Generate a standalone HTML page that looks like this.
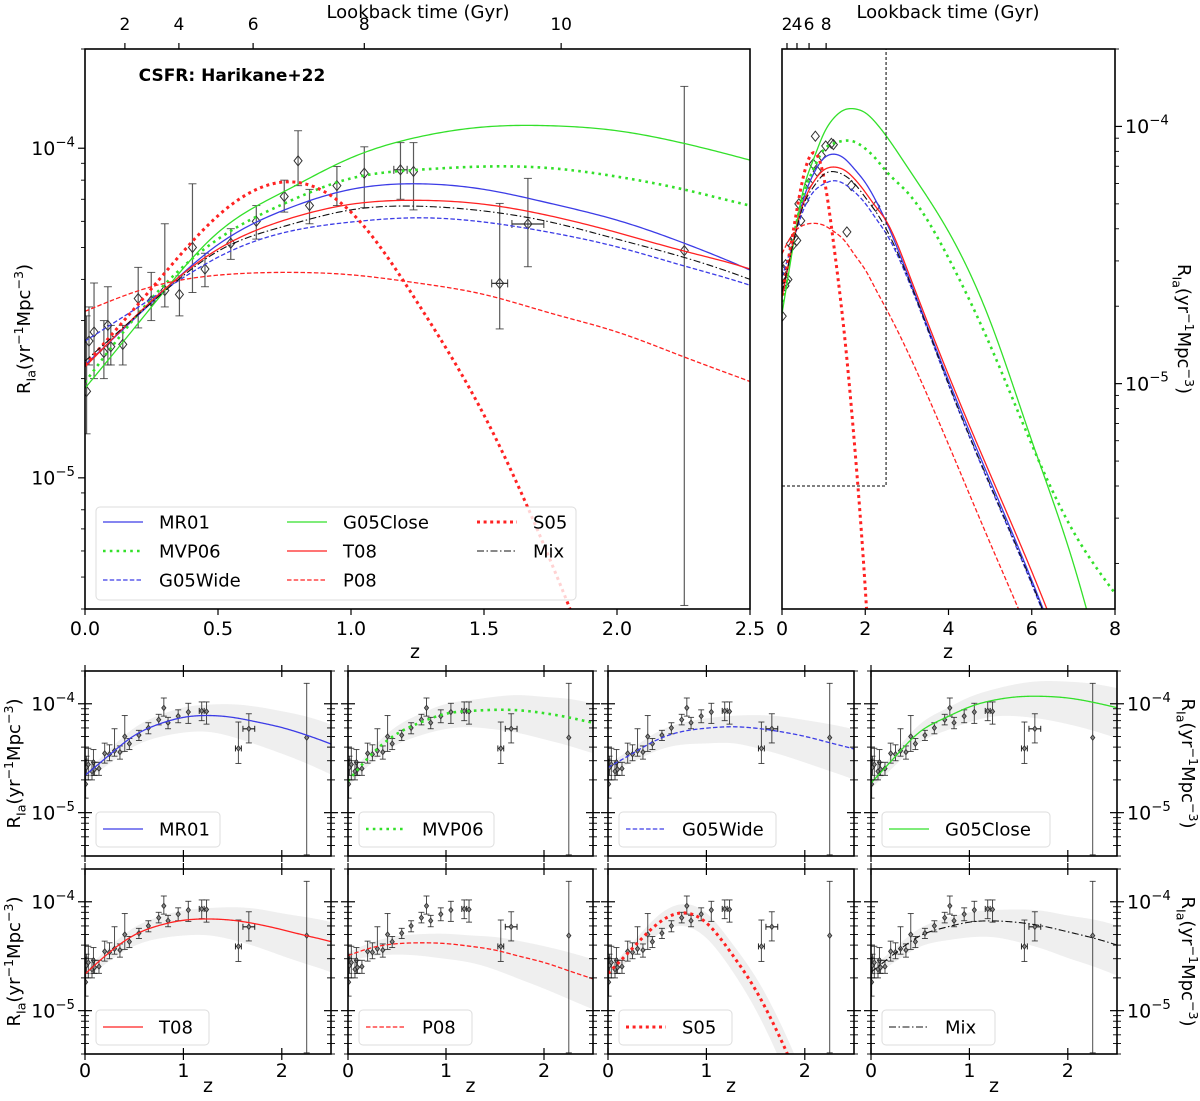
<!DOCTYPE html>
<html><head><meta charset="utf-8">
<style>
html,body{margin:0;padding:0;background:#fff;overflow:hidden;width:1200px;height:1101px;}
svg{display:block;font-family:"DejaVu Sans","Liberation Sans",sans-serif;}
</style></head>
<body>
<svg id="fig" width="1200" height="1101" viewBox="0 0 1200 1101" xmlns="http://www.w3.org/2000/svg" overflow="hidden"></svg>
<script>
// ---- data ----
const zGrid = [0,0.25,0.5,0.75,1,1.25,1.5,1.75,2,2.25,2.5,3,4,5,6,7,8];
const mr01     = [2.2e-5,3.4e-5,5.1e-5,6.5e-5,7.5e-5,7.8e-5,7.5e-5,6.8e-5,6.05e-5,5.16e-5,4.27e-5,2.7e-5,1.03e-5,4.2e-6,1.72e-6,6.5e-7,2.3e-7];
const mvp06    = [1.95e-5,3.5e-5,5.3e-5,6.8e-5,8.1e-5,8.6e-5,8.8e-5,8.7e-5,8.2e-5,7.5e-5,6.7e-5,5.57e-5,3.08e-5,1.41e-5,5.8e-6,2.66e-6,1.53e-6];
const g05wide  = [2.6e-5,3.5e-5,4.67e-5,5.55e-5,5.97e-5,6.15e-5,5.97e-5,5.55e-5,5.02e-5,4.4e-5,3.84e-5,2.6e-5,9.9e-6,4.0e-6,1.66e-6,6.3e-7,2.2e-7];
const g05close = [1.87e-5,3.3e-5,5.55e-5,7.4e-5,9.35e-5,1.08e-4,1.16e-4,1.17e-4,1.13e-4,1.035e-4,9.2e-5,7.0e-5,3.9e-5,1.75e-5,6.0e-6,2.0e-6,5e-7];
const t08      = [2.17e-5,3.44e-5,4.94e-5,6.05e-5,6.76e-5,6.95e-5,6.76e-5,6.23e-5,5.55e-5,4.88e-5,4.3e-5,2.8e-5,1.08e-5,4.45e-6,1.86e-6,7.2e-7,2.6e-7];
const p08      = [3.2e-5,3.8e-5,4.12e-5,4.2e-5,4.13e-5,3.9e-5,3.6e-5,3.16e-5,2.77e-5,2.33e-5,1.96e-5,1.35e-5,5.8e-6,2.4e-6,1.0e-6,3.8e-7,1.4e-7];
const s05      = [2.2e-5,3.75e-5,6.24e-5,7.9e-5,6.4e-5,3.4e-5,1.55e-5,5.6e-6,1.6e-6,3e-7,4e-8,4e-10,1e-14,1e-19,1e-24,1e-29,1e-34];
const mix      = [2.26e-5,3.4e-5,4.87e-5,5.8e-5,6.5e-5,6.67e-5,6.45e-5,5.97e-5,5.3e-5,4.67e-5,4.0e-5,2.65e-5,1.0e-5,4.05e-6,1.68e-6,6.4e-7,2.3e-7];
const bandUp   = [0.03,0.05,0.07,0.08,0.09,0.1,0.12,0.14,0.15,0.17,0.18,0.2,0.22,0.24,0.26,0.28,0.3];
const bandDown = [0.05,0.08,0.1,0.12,0.14,0.15,0.18,0.21,0.24,0.26,0.28,0.3,0.32,0.34,0.36,0.38,0.4];
// observations
const obsZ   = [0.006,0.015,0.034,0.071,0.086,0.097,0.142,0.2,0.249,0.3,0.355,0.404,0.451,0.548,0.644,0.749,0.801,0.844,0.947,1.05,1.186,1.235,1.559,1.665,2.253];
const obsR   = [1.83e-5,2.6e-5,2.77e-5,2.4e-5,2.9e-5,2.5e-5,2.54e-5,3.5e-5,3.44e-5,3.7e-5,3.6e-5,5.0e-5,4.3e-5,5.15e-5,6.0e-5,7.14e-5,9.16e-5,6.7e-5,7.7e-5,8.4e-5,8.6e-5,8.5e-5,3.89e-5,5.89e-5,4.89e-5];
const obsHi  = [3.1e-5,3.3e-5,3.9e-5,3.0e-5,3.8e-5,2.9e-5,2.9e-5,4.35e-5,4.2e-5,5.9e-5,4.1e-5,7.8e-5,4.8e-5,5.7e-5,6.7e-5,8.0e-5,1.13e-4,7.5e-5,8.8e-5,1.01e-4,1.04e-4,1.04e-4,6.8e-5,8.1e-5,1.54e-4];
const obsLo  = [1.36e-5,2.2e-5,2.0e-5,2.0e-5,2.2e-5,2.2e-5,2.2e-5,2.85e-5,3.0e-5,3.3e-5,3.1e-5,3.65e-5,3.8e-5,4.6e-5,5.3e-5,6.4e-5,7.7e-5,5.9e-5,6.7e-5,6.6e-5,7.0e-5,6.5e-5,2.83e-5,4.37e-5,4.1e-6];
const obsXe  = [0,0,0,0,0,0,0,0,0,0,0,0,0,0,0,0,0,0,0,0,0.025,0,0.03,0.06,0];
const lbLabels = ["2","4","6","8","10"];
const lbZ      = [0.15,0.353,0.632,1.05,1.79];
const lbLabelsR = ["2","4","6","8"];
const lbZR      = [0.12,0.36,0.65,1.06];
const mainXTicks = [0,0.5,1.0,1.5,2.0,2.5];
const rightXTicks = [0,2,4,6,8];
const smallXTicks = [0,1,2];

const models = [
 {name:"MR01", v:mr01, c:"#3c3ce6", w:1.3, d:null},
 {name:"MVP06", v:mvp06, c:"#33e02a", w:2.6, d:"2.6 4.2"},
 {name:"G05Wide", v:g05wide, c:"#3c3ce6", w:1.3, d:"4.5 2.2"},
 {name:"G05Close", v:g05close, c:"#33e02a", w:1.3, d:null},
 {name:"T08", v:t08, c:"#ff2222", w:1.3, d:null},
 {name:"P08", v:p08, c:"#ff2222", w:1.3, d:"4.5 2.2"},
 {name:"S05", v:s05, c:"#ff2222", w:3, d:"3 3.6"},
 {name:"Mix", v:mix, c:"#111", w:1.1, d:"7 2.5 1.5 2.5"}
];

const NS="http://www.w3.org/2000/svg";
const fig=document.getElementById('fig');
function el(tag,attrs,parent){const e=document.createElementNS(NS,tag);for(const k in attrs)e.setAttribute(k,attrs[k]);(parent||fig).appendChild(e);return e;}
function lg(v){return Math.log10(v);}

function makeAxes(x0,x1,y0,y1,zmin,zmax,lmin,lmax,id){
  return {x0,x1,y0,y1,id,
    X:z=>x0+(z-zmin)/(zmax-zmin)*(x1-x0),
    YL:L=>y1-(L-lmin)/(lmax-lmin)*(y1-y0),
    Y:r=>y1-(lg(r)-lmin)/(lmax-lmin)*(y1-y0)};
}
function clip(a){
  const cp=el('clipPath',{id:'clip-'+a.id});
  el('rect',{x:a.x0,y:a.y0,width:a.x1-a.x0,height:a.y1-a.y0},cp);
  return 'url(#clip-'+a.id+')';
}
function spline(ys){
  const x=zGrid,n=x.length,h=[],al=[0],l=[1],mu=[0],zz=[0],c=new Array(n).fill(0),b=[],d=[];
  for(let i=0;i<n-1;i++)h.push(x[i+1]-x[i]);
  for(let i=1;i<n-1;i++)al.push(3/h[i]*(ys[i+1]-ys[i])-3/h[i-1]*(ys[i]-ys[i-1]));
  for(let i=1;i<n-1;i++){l[i]=2*(x[i+1]-x[i-1])-h[i-1]*mu[i-1];mu[i]=h[i]/l[i];zz[i]=(al[i]-h[i-1]*zz[i-1])/l[i];}
  for(let j=n-2;j>=0;j--){c[j]=zz[j]-mu[j]*c[j+1];b[j]=(ys[j+1]-ys[j])/h[j]-h[j]*(c[j+1]+2*c[j])/3;d[j]=(c[j+1]-c[j])/(3*h[j]);}
  return z=>{let j=0;while(j<n-2&&z>x[j+1])j++;const t=z-x[j];return ys[j]+b[j]*t+c[j]*t*t+d[j]*t*t*t;};
}
function sampled(a,logs,zmax){
  const f=spline(logs);const pts=[];
  for(let z=0;z<=zmax+1e-9;z+=0.01){
    let y=a.YL(f(z));
    if(y>a.y1+20){ pts.push([a.X(z),a.y1+20]); break; }
    if(y<a.y0-20) y=a.y0-20;
    pts.push([a.X(z),y]);
  }
  return pts;
}
function drawModel(a,m,g,name,zmax){
  const pts=sampled(a,m.v.map(lg),zmax);
  const p=el('path',{d:'M'+pts.map(q=>q[0].toFixed(2)+','+q[1].toFixed(2)).join(' L'),fill:'none',stroke:m.c,'stroke-width':m.w,'stroke-dasharray':m.d||'none'},g);
  
  
}
function drawBand(a,m,g){
  const f1=spline(m.v.map((v,i)=>lg(v)+bandUp[i]));
  const f2=spline(m.v.map((v,i)=>lg(v)-bandDown[i]));
  const cl=y=>Math.max(a.y0-20,Math.min(a.y1+20,y));
  const up=[],dn=[];
  for(let z=0;z<=2.6;z+=0.01){up.push([a.X(z),cl(a.YL(f1(z)))]);dn.push([a.X(z),cl(a.YL(f2(z)))]);}
  const all=up.concat(dn.reverse());
  const p=el('path',{d:'M'+all.map(q=>q[0].toFixed(2)+','+q[1].toFixed(2)).join(' L')+' Z',fill:'#efefef',stroke:'none'},g);
  
  
}
function drawObs(a,g,big,errors){
  obsZ.forEach((z,i)=>{
    const x=a.X(z),y=a.Y(obsR[i]);
    const grp=el('g',{},g);
    
    
    const col=big?'#333':'#222';
    if(errors){
      const yh=a.Y(obsHi[i]),yl=a.Y(obsLo[i]);
      el('line',{x1:x,x2:x,y1:yh,y2:yl,stroke:col,'stroke-width':big?1.2:1,opacity:0.8},grp);
      const cw=big?4:3;
      el('line',{x1:x-cw,x2:x+cw,y1:yh,y2:yh,stroke:col,'stroke-width':1,opacity:0.8},grp);
      el('line',{x1:x-cw,x2:x+cw,y1:yl,y2:yl,stroke:col,'stroke-width':1,opacity:0.8},grp);
      if(obsXe[i]>0){
        const xa=a.X(z-obsXe[i]),xb=a.X(z+obsXe[i]);
        el('line',{x1:xa,x2:xb,y1:y,y2:y,stroke:col,'stroke-width':1.2},grp);
        el('line',{x1:xa,x2:xa,y1:y-cw,y2:y+cw,stroke:col,'stroke-width':1},grp);
        el('line',{x1:xb,x2:xb,y1:y-cw,y2:y+cw,stroke:col,'stroke-width':1},grp);
      }
    }
    const s=big?5:2.6;
    el('path',{d:`M${x},${y-s} L${x+s*0.8},${y} L${x},${y+s} L${x-s*0.8},${y} Z`,fill:big?'none':'#888',stroke:'#333','stroke-width':big?1:0.9},grp);
  });
}
function frame(a,name){
  const r=el('rect',{x:a.x0,y:a.y0,width:a.x1-a.x0,height:a.y1-a.y0,fill:'none',stroke:'#000','stroke-width':1.6});
  
  
}
function yTicks(a,lmin,lmax,side,mode,labels,fs){
  for(let d=Math.floor(lmin);d<=Math.ceil(lmax);d++){
    for(let k=1;k<10;k++){
      const v=k*Math.pow(10,d); const L=lg(v);
      if(L<lmin-1e-9||L>lmax+1e-9) continue;
      const y=a.Y(v); const len=k===1?7:4;
      const x=side==='left'?a.x0:a.x1; const sgn=side==='left'?-1:1;
      const xi=mode==='inout'?x-sgn*len:x;
      el('line',{x1:xi,x2:x+sgn*len,y1:y,y2:y,stroke:'#000','stroke-width':k===1?1.2:0.9});
      if(k===1&&labels){
        const tx=side==='left'?x-10:x+10;
        const t=el('text',{x:tx,y:y+fs*0.35,'font-size':fs,'text-anchor':side==='left'?'end':'start',fill:'#000'});
        
        
        t.textContent='10';
        const ts=el('tspan',{dy:-fs*0.45,'font-size':fs*0.7},t); ts.textContent='−'+(-d);
      }
    }
  }
}
function xTicks(a,ticks,fmt,edge,mode,labels,fs,off){
  ticks.forEach(z=>{
    const x=a.X(z); const y=edge==='bottom'?a.y1:a.y0; const sgn=edge==='bottom'?1:-1;
    const yi=mode==='inout'?y-sgn*6:y;
    el('line',{x1:x,x2:x,y1:yi,y2:y+sgn*6,stroke:'#000','stroke-width':1.2});
    if(labels){
      const t=el('text',{x:x,y:edge==='bottom'?y+(off||26):y-10,'font-size':fs,'text-anchor':'middle'});
      t.textContent=fmt(z);
      
      
    }
  });
}
function textAt(x,y,s,fs,name,extra){
  const t=el('text',Object.assign({x,y,'font-size':fs,'text-anchor':'middle'},extra||{}));
  t.textContent=s;
  
  
  return t;
}
function yLabel(x,y,fs,rot,name){
  const t=el('text',{x:0,y:0,'font-size':fs,'text-anchor':'middle',transform:`translate(${x},${y}) rotate(${rot})`});
  
  
  const a=el('tspan',{},t); a.textContent='R';
  const b=el('tspan',{dy:fs*0.3,'font-size':fs*0.7},t); b.textContent='Ia';
  const c=el('tspan',{dy:-fs*0.3},t); c.textContent='(yr';
  const d=el('tspan',{dy:-fs*0.4,'font-size':fs*0.7},t); d.textContent='−1';
  const e=el('tspan',{dy:fs*0.4},t); e.textContent='Mpc';
  const f=el('tspan',{dy:-fs*0.4,'font-size':fs*0.7},t); f.textContent='−3';
  const g=el('tspan',{dy:fs*0.4},t); g.textContent=')';
}
function legendEntry(g,x,y,m,fs){
  const e=el('g',{},g);
  
  
  el('line',{x1:x,x2:x+40,y1:y,y2:y,stroke:m.c,'stroke-width':m.w,'stroke-dasharray':m.d||'none'},e);
  const t=el('text',{x:x+56,y:y+fs*0.36,'font-size':fs},e); t.textContent=m.name;
}

// ---- main panel ----
const LMIN=lg(4e-6), LMAX=lg(2e-4);
const A=makeAxes(85,750,49,609,0,2.5,LMIN,LMAX,'main');
const gMain=el('g',{'clip-path':clip(A)});


drawObs(A,gMain,true,true);
models.forEach(m=>drawModel(A,m,gMain,'curve-'+m.name.toLowerCase(),2.6));
frame(A,'main-frame');
yTicks(A,LMIN,LMAX,'left','out',true,19);
xTicks(A,mainXTicks,z=>z.toFixed(1),'bottom','out',true,19);
xTicks(A,lbZ,null,'top','out',false,17);
lbZ.forEach((z,i)=>textAt(A.X(z),30,lbLabels[i],17,'lookback-tick-label'));
textAt(418,18,'Lookback time (Gyr)',18,'top-x-axis-title');
textAt(415,658,'z',19,'x-axis-title');
yLabel(30,329,18,-90,'y-axis-title');
textAt(232,81,'CSFR: Harikane+22',17,'panel-annotation',{'font-weight':'bold'});
const leg=el('g',{});


el('rect',{x:96,y:507,width:480,height:93,rx:4,fill:'#fff','fill-opacity':0.8,stroke:'#ddd'},leg);
const lx=[103,287,477], ly=[522,551,580];
models.forEach((m,i)=>legendEntry(leg,lx[Math.floor(i/3)],ly[i%3],m,18));

// ---- right panel ----
const RMIN=lg(1.33e-6);
const B=makeAxes(782,1115,49,609,0,8,RMIN,LMAX,'right');
const gR=el('g',{'clip-path':clip(B)});


drawObs(B,gR,true,false);
models.forEach(m=>drawModel(B,m,gR,'curve-'+m.name.toLowerCase(),8));
const zb=el('path',{d:`M${B.X(0)},${B.Y(4e-6)} L${B.X(2.5)},${B.Y(4e-6)} L${B.X(2.5)},${B.y0}`,fill:'none',stroke:'#000','stroke-width':1,'stroke-dasharray':'3 2'});


frame(B,'right-frame');
yTicks(B,RMIN,LMAX,'right','out',true,19);
xTicks(B,rightXTicks,z=>String(z),'bottom','out',true,19);
xTicks(B,lbZR,null,'top','out',false,17);
lbZR.forEach((z,i)=>textAt(B.X(z),30,lbLabelsR[i],17,'lookback-tick-label'));
textAt(948,18,'Lookback time (Gyr)',18,'right-top-x-axis-title');
textAt(948,658,'z',19,'right-x-axis-title');
yLabel(1178,329,18,90,'right-y-axis-title');

// ---- small panels ----
const colX=[[85,331],[348,593],[608,854],[871,1117]];
const rowY=[[671,856],[869,1054]];
models.forEach((m,k)=>{
  const r=Math.floor(k/4), c=k%4;
  const P=makeAxes(colX[c][0],colX[c][1],rowY[r][0],rowY[r][1],0,2.5,LMIN,LMAX,'p'+k);
  const g=el('g',{'clip-path':clip(P)});
  
  
  drawBand(P,m,g);
  drawObs(P,g,false,true);
  drawModel(P,m,g,'curve-'+m.name.toLowerCase(),2.6);
  frame(P,'panel-frame-'+m.name.toLowerCase());
  yTicks(P,LMIN,LMAX,'left','inout',c===0,19);
  yTicks(P,LMIN,LMAX,'right','inout',c===3,19);
  xTicks(P,smallXTicks,z=>String(z),'bottom','inout',r===1,19,23);
  xTicks(P,smallXTicks,null,'top','inout',false,17);
  const lgG=el('g',{});
  
  
  const w=m.name.length*11+80;
  el('rect',{x:P.x0+11,y:P.y0+141,width:w,height:35,rx:4,fill:'#fff','fill-opacity':0.8,stroke:'#ddd'},lgG);
  legendEntry(lgG,P.x0+18,P.y0+158,m,18);
  if(r===1) textAt((P.x0+P.x1)/2,1092,'z',19,'x-axis-title');
  if(c===0) yLabel(20,(P.y0+P.y1)/2,18,-90,'y-axis-title');
  if(c===3) yLabel(1182,(P.y0+P.y1)/2,18,90,'y-axis-title-right');
});
</script>
</body></html>
